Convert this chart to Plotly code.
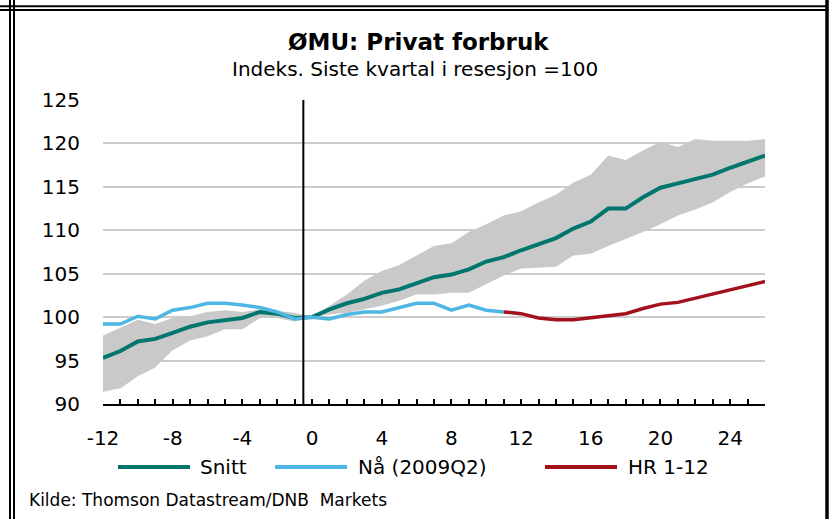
import plotly.graph_objects as go

# ---------------- data ----------------
quarters = list(range(-12, 27))

snitt = [95.3, 96.1, 97.2, 97.5, 98.2, 98.9, 99.4, 99.7, 99.9, 100.6, 100.4, 99.9, 100.0,
         100.9, 101.6, 102.1, 102.8, 103.2, 103.9, 104.6, 104.9, 105.5, 106.4, 106.9, 107.7, 108.4,
         109.1, 110.2, 111.0, 112.5, 112.5, 113.8, 114.9, 115.4, 115.9, 116.4, 117.2, 117.9, 118.6]

band_upper = [97.9, 98.8, 99.7, 99.2, 99.9, 100.1, 100.6, 100.8, 100.6, 100.9, 100.7, 100.5, 100.0,
              101.3, 102.6, 104.2, 105.3, 106.0, 107.1, 108.2, 108.5, 109.8, 110.7, 111.7, 112.2, 113.2,
              114.1, 115.5, 116.4, 118.6, 118.1, 119.2, 120.2, 119.6, 120.5, 120.3, 120.3, 120.3, 120.5]

band_lower = [91.4, 91.8, 93.2, 94.2, 96.2, 97.3, 97.8, 98.6, 98.6, 99.9, 99.9, 99.5, 100.0,
              100.3, 100.5, 100.9, 101.3, 101.9, 102.6, 102.6, 102.8, 102.8, 103.8, 104.8, 105.6, 105.7,
              105.8, 107.1, 107.3, 108.2, 109.0, 109.8, 110.7, 111.7, 112.4, 113.2, 114.4, 115.4, 116.2]

naa_quarters = list(range(-12, 12))
naa = [99.2, 99.2, 100.1, 99.8, 100.8, 101.1, 101.6, 101.6, 101.4, 101.1, 100.6, 99.8, 100.0,
       99.8, 100.3, 100.6, 100.6, 101.1, 101.6, 101.6, 100.8, 101.4, 100.8, 100.6]

hr_quarters = list(range(11, 27))
hr = [100.6, 100.4, 99.9, 99.7, 99.7, 99.9, 100.2, 100.4, 101.0, 101.5, 101.7, 102.2, 102.7,
      103.2, 103.6, 104.1]

x_tickvals = [-12, -8, -4, 0, 4, 8, 12, 16, 20, 24]
y_tickvals = [90, 95, 100, 105, 110, 115, 120, 125]

series_names = ["Snitt", "Nå (2009Q2)", "HR 1-12"]
title_text = "ØMU: Privat forbruk"
subtitle_text = "Indeks. Siste kvartal i resesjon =100"
source_text = "Kilde: Thomson Datastream/DNB  Markets"
recession_end = -0.5

# ---------------- styling ----------------
C_SNITT = "#00766f"
C_NAA = "#4db6e2"
C_HR = "#a3111c"
C_BAND = "#c9c9c9"
FONT = "DejaVu Sans, Liberation Sans, Arial, sans-serif"

W, H = 830, 519
L, R, T, B = 103, 65, 100, 115
PW, PH = W - L - R, H - T - B


def px_x(px):
    return (px - L) / PW


def px_y(py):
    return (H - B - py) / PH


fig = go.Figure()

# band (min-max range)
fig.add_trace(go.Scatter(x=quarters, y=band_lower, mode="lines", line=dict(width=0, color=C_BAND),
                         showlegend=False, hoverinfo="skip"))
fig.add_trace(go.Scatter(x=quarters, y=band_upper, mode="lines", line=dict(width=0, color=C_BAND),
                         fill="tonexty", fillcolor=C_BAND, showlegend=False, hoverinfo="skip"))

fig.add_trace(go.Scatter(x=quarters, y=snitt, mode="lines", name=series_names[0],
                         line=dict(color=C_SNITT, width=4)))
fig.add_trace(go.Scatter(x=naa_quarters, y=naa, mode="lines", name=series_names[1],
                         line=dict(color=C_NAA, width=3.5)))
fig.add_trace(go.Scatter(x=hr_quarters, y=hr, mode="lines", name=series_names[2],
                         line=dict(color=C_HR, width=3.5)))

shapes = []
# recession marker line
shapes.append(dict(type="line", xref="x", yref="paper", x0=recession_end, x1=recession_end,
                   y0=0, y1=1, line=dict(color="black", width=2), layer="above"))


# frame lines
def frame_line(x0, y0, x1, y1, w):
    return dict(type="line", xref="paper", yref="paper",
                x0=px_x(x0), x1=px_x(x1), y0=px_y(y0), y1=px_y(y1),
                line=dict(color="black", width=w), layer="above")


shapes += [
    frame_line(10, 0, 10, H, 2),
    frame_line(14, 0, 14, H, 2),
    frame_line(0, 6.3, 828, 6.3, 2),
    frame_line(0, 9.9, 828, 9.9, 2),
    frame_line(827, 0, 827, H, 3.5),
]

# manual legend (long line samples like the original)
legend_items = [
    (series_names[0], C_SNITT, 118, 190, 198),
    (series_names[1], C_NAA, 275, 347, 356),
    (series_names[2], C_HR, 545, 617, 626),
]
LEG_Y = 467
annotations = []
for name, col, lx0, lx1, tx in legend_items:
    shapes.append(dict(type="line", xref="paper", yref="paper",
                       x0=px_x(lx0), x1=px_x(lx1), y0=px_y(LEG_Y), y1=px_y(LEG_Y),
                       line=dict(color=col, width=4)))
    annotations.append(dict(text=name, xref="paper", yref="paper", x=px_x(tx), y=px_y(LEG_Y),
                            xanchor="left", yanchor="middle", showarrow=False,
                            font=dict(family=FONT, size=20, color="black")))

annotations += [
    dict(text=f"<b>{title_text}</b>", xref="paper", yref="paper", x=px_x(418), y=px_y(42),
         xanchor="center", yanchor="middle", showarrow=False,
         font=dict(family=FONT, size=23, color="black")),
    dict(text=subtitle_text, xref="paper", yref="paper", x=px_x(415), y=px_y(69),
         xanchor="center", yanchor="middle", showarrow=False,
         font=dict(family=FONT, size=20, color="black")),
    dict(text=source_text, xref="paper", yref="paper", x=px_x(27), y=px_y(500),
         xanchor="left", yanchor="middle", showarrow=False,
         font=dict(family=FONT, size=17, color="black")),
]

fig.update_layout(
    width=W, height=H,
    margin=dict(l=L, r=R, t=T, b=B, pad=0),
    paper_bgcolor="white", plot_bgcolor="white",
    showlegend=False,
    shapes=shapes,
    annotations=annotations,
    font=dict(family=FONT, size=20, color="black"),
)

fig.update_xaxes(
    range=[-12, 26], tickvals=x_tickvals, ticktext=[str(v) for v in x_tickvals],
    showgrid=False, zeroline=False,
    showline=True, linecolor="black", linewidth=2,
    ticks="inside", ticklen=5, tickwidth=2, tickcolor="black",
    minor=dict(dtick=1, tick0=-12, ticks="inside", ticklen=5, tickwidth=2, tickcolor="black",
               showgrid=False),
    ticklabelstandoff=15,
    tickfont=dict(family=FONT, size=20, color="black"),
)
fig.update_yaxes(
    range=[90, 125], tickvals=y_tickvals, ticktext=[str(v) for v in y_tickvals],
    showgrid=True, gridcolor="#cccccc", gridwidth=2,
    zeroline=False, showline=False, ticks="",
    ticklabelstandoff=22,
    tickfont=dict(family=FONT, size=20, color="black"),
)

fig.write_html("out.html", config={"displayModeBar": False},
               post_script="document.body.style.margin='0px';")
